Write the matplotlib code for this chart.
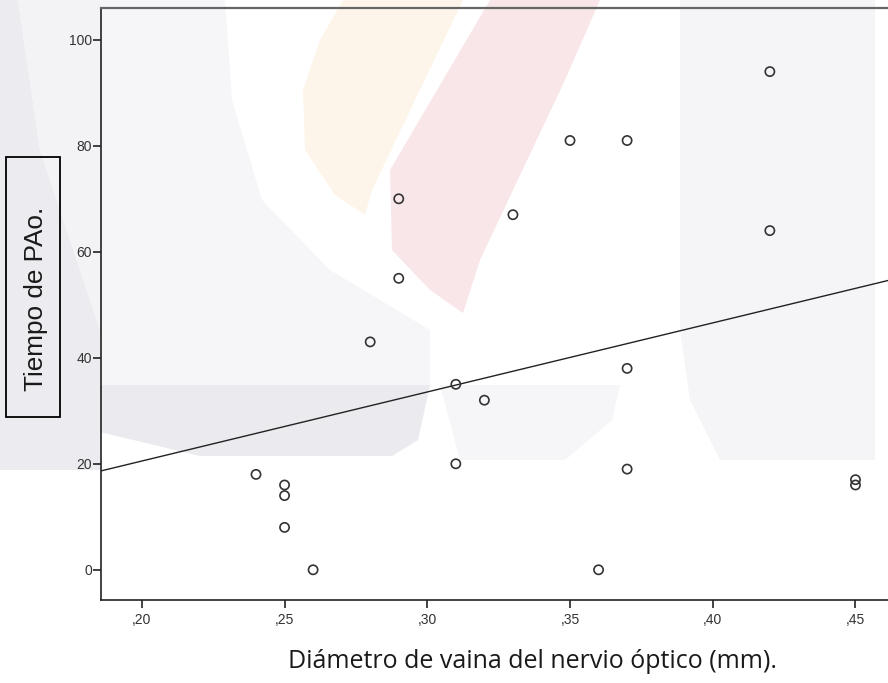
"""Scatter of optic nerve sheath diameter vs PAo time, with linear fit."""

import matplotlib
matplotlib.use("Agg")
import matplotlib.pyplot as plt
import numpy as np
from matplotlib.patches import Polygon, Rectangle

# Data
diametro = [0.24, 0.25, 0.25, 0.25, 0.26, 0.28, 0.29, 0.29, 0.31, 0.31, 0.32,
            0.33, 0.35, 0.36, 0.37, 0.37, 0.37, 0.42, 0.42, 0.45, 0.45]
tiempo = [18, 16, 14, 8, 0, 43, 70, 55, 35, 20, 32,
          67, 81, 0, 81, 38, 19, 94, 64, 17, 16]

x_ticks = [0.20, 0.25, 0.30, 0.35, 0.40, 0.45]
x_tick_labels = [",20", ",25", ",30", ",35", ",40", ",45"]
y_ticks = [0, 20, 40, 60, 80, 100]

W, H = 888, 683
fig = plt.figure(figsize=(W / 100, H / 100), dpi=100)

# faint watermark in the background (pixel coords)
bg = fig.add_axes([0, 0, 1, 1], zorder=0)
bg.set_xlim(0, W)
bg.set_ylim(H, 0)
bg.axis("off")
shapes = [
    ([(0, 0), (18, 0), (40, 150), (100, 330), (100, 470), (0, 470)], "#ebebf0"),
    ([(18, 0), (100, 0), (100, 330), (40, 150)], "#f3f3f6"),
    ([(100, 0), (225, 0), (232, 100), (262, 200), (330, 270), (400, 312),
      (430, 330), (430, 385), (100, 385)], "#f6f6f8"),
    ([(100, 385), (430, 385), (418, 440), (392, 456), (200, 456), (100, 432)], "#eaeaef"),
    ([(343, 0), (463, 0), (372, 190), (365, 215), (335, 195), (305, 150),
      (303, 90), (320, 40)], "#fef5ea"),
    ([(490, 0), (600, 0), (565, 80), (480, 260), (463, 313), (430, 290),
      (392, 250), (390, 170)], "#f9e6e8"),
    ([(680, 0), (875, 0), (875, 460), (720, 460), (690, 400), (680, 330)], "#f5f5f8"),
    ([(440, 385), (620, 385), (612, 420), (565, 460), (460, 460)], "#f6f6f8"),
]
for pts, col in shapes:
    bg.add_patch(Polygon(pts, closed=True, facecolor=col, edgecolor="none"))

ax = fig.add_axes([101 / W, 1 - 600 / H, 1 - 101 / W + 0.01, (600 - 8) / H], zorder=1)
ax.patch.set_alpha(0)

ax.scatter(diametro, tiempo, s=44, facecolors="none", edgecolors="#333333",
           linewidths=1.2, zorder=3)

# least squares fit line
slope, intercept = np.polyfit(diametro, tiempo, 1)
x_min, x_max = 0.1857, 0.4645
xs = np.array([x_min, x_max])
ax.plot(xs, intercept + slope * xs, color="#222222", lw=1.0, zorder=2)

ax.set_xlim(x_min, x_max)
ax.set_ylim(-5.7, 106)
ax.set_xticks(x_ticks)
ax.set_xticklabels(x_tick_labels)
ax.set_yticks(y_ticks)

ax.spines["right"].set_visible(False)
ax.spines["left"].set_color("#222222")
ax.spines["bottom"].set_color("#222222")
ax.spines["top"].set_color("#666666")
ax.spines["left"].set_linewidth(1.2)
ax.spines["bottom"].set_linewidth(1.2)
ax.spines["top"].set_linewidth(1.6)

for lab in ax.get_xticklabels() + ax.get_yticklabels():
    lab.set_family("Liberation Sans")
ax.tick_params(axis="x", direction="out", length=6, width=1.2, color="#222222",
               labelsize=10, labelcolor="#333333", pad=3.5)
ax.tick_params(axis="y", direction="out", length=6, width=1.2, color="#222222",
               labelsize=10, labelcolor="#333333", pad=0.5)

# axis titles
fig.text(532 / W, 1 - 661 / H, "Diámetro de vaina del nervio óptico (mm).",
         ha="center", va="center", fontsize=18, family="Open Sans", color="#1a1a1a")
fig.patches.append(Rectangle((6 / W, 1 - 417 / H), 54 / W, 260 / H, transform=fig.transFigure,
                             facecolor="none", edgecolor="black", lw=1.3, zorder=2))
fig.text(36 / W, 1 - 299 / H, "Tiempo de PAo.", rotation=90, ha="center", va="center",
         fontsize=18.8, family="Liberation Sans", color="#1a1a1a", zorder=3)

fig.savefig("out.png", dpi=100)
